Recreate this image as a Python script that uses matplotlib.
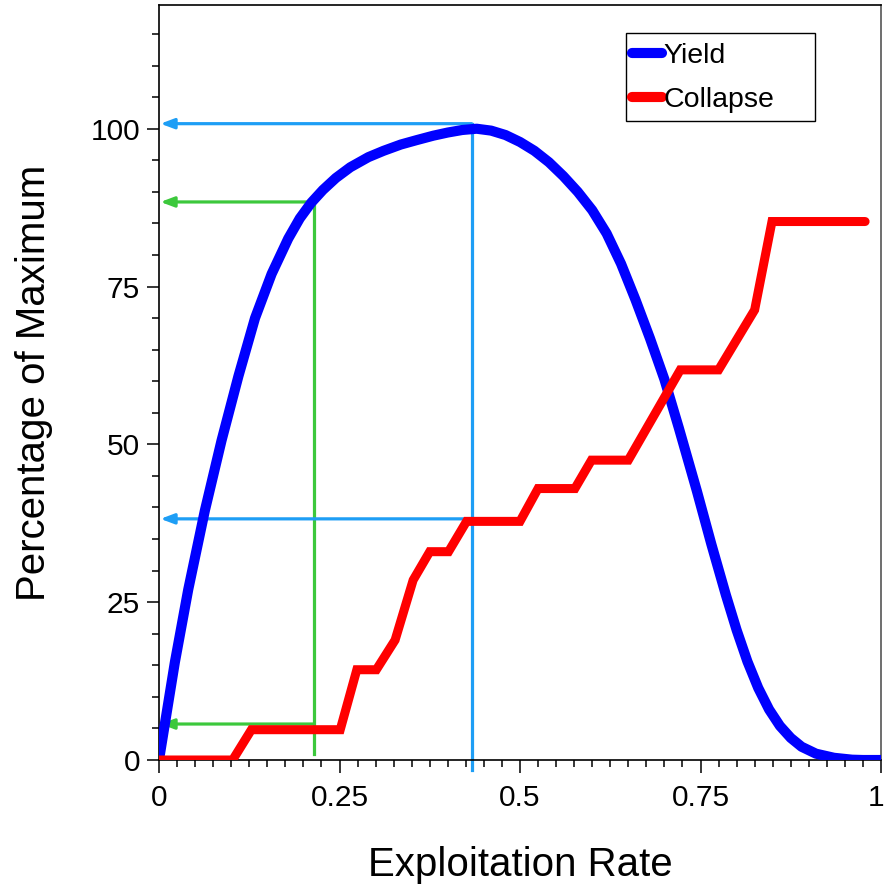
import matplotlib
matplotlib.use("Agg")
import matplotlib.pyplot as plt
from matplotlib.ticker import MultipleLocator, FixedLocator
from matplotlib.patches import Rectangle
from matplotlib.lines import Line2D
import matplotlib.transforms as mtransforms

plt.rcParams['font.family'] = ['Liberation Sans', 'DejaVu Sans']

# Yield curve (percentage of maximum) vs exploitation rate
yield_x = [0, 0.022, 0.0405, 0.0635, 0.0866, 0.11, 0.133, 0.156, 0.179, 0.195,
           0.211, 0.227, 0.245, 0.265, 0.29, 0.311, 0.335, 0.357, 0.38, 0.40,
           0.42, 0.44, 0.46, 0.48, 0.50, 0.52, 0.54, 0.56, 0.58, 0.60,
           0.62, 0.64, 0.66, 0.68, 0.70, 0.72, 0.745, 0.765, 0.785, 0.80,
           0.815, 0.83, 0.845, 0.86, 0.875, 0.89, 0.91, 0.935, 0.96, 0.975, 1.0]
yield_y = [0, 15.5, 27.0, 39.5, 50.6, 60.8, 70.0, 77.0, 82.6, 85.8,
           88.3, 90.3, 92.2, 93.9, 95.5, 96.5, 97.5, 98.2, 98.9, 99.4,
           99.8, 100.0, 99.7, 99.0, 97.9, 96.5, 94.7, 92.5, 90.0, 87.1,
           83.4, 78.6, 72.9, 66.8, 60.3, 52.6, 42.6, 34.2, 26.2, 20.6,
           15.6, 11.4, 8.0, 5.4, 3.5, 2.1, 1.0, 0.35, 0.05, 0, 0]

# Collapse (step-like) curve
collapse_x = [0, 0.102, 0.128, 0.251, 0.274, 0.301, 0.327, 0.352, 0.375, 0.401,
              0.426, 0.5, 0.525, 0.576, 0.599, 0.650, 0.722, 0.775, 0.825, 0.849, 0.978]
collapse_y = [0, 0, 4.8, 4.8, 14.3, 14.3, 19.0, 28.5, 33.0, 33.0,
              37.8, 37.8, 43.0, 43.0, 47.5, 47.5, 61.8, 61.8, 71.3, 85.3, 85.3]

# Reference guide lines
msy_rate = 0.433
msy_yield = 100.8
msy_collapse = 38.2
alt_rate = 0.2147
alt_yield = 88.4
alt_collapse = 5.7

x_ticks = [0, 0.25, 0.5, 0.75, 1]
x_tick_labels = ['0', '0.25', '0.5', '0.75', '1']
y_ticks = [0, 25, 50, 75, 100]
y_tick_labels = ['0', '25', '50', '75', '100']
series_labels = ['Yield', 'Collapse']
series_colors = ['#0000FF', '#FF0000']

W, H = 885, 886
fig = plt.figure(figsize=(W / 100, H / 100), dpi=100)
ax = fig.add_axes([159 / W, 1 - 760 / H, (881 - 159) / W, (760 - 5) / H])

lb = '#1E9EF5'
gr = '#3CC83C'

# guide lines
ax.plot([msy_rate, msy_rate], [-1.6, msy_yield], color=lb, lw=2.3, clip_on=False, zorder=2)
ax.plot([alt_rate, alt_rate], [1.0, alt_yield], color=gr, lw=2.3, zorder=2)
for yv, col, x0 in [(msy_yield, lb, msy_rate), (msy_collapse, lb, msy_rate),
                    (alt_yield, gr, alt_rate), (alt_collapse, gr, alt_rate)]:
    ax.annotate('', xy=(0.002, yv), xytext=(x0, yv),
                arrowprops=dict(arrowstyle='-|>,head_length=0.8,head_width=0.3',
                                color=col, lw=2.3, shrinkA=0, shrinkB=0), zorder=2)

ax.plot(yield_x, yield_y, color=series_colors[0], lw=7.3, solid_capstyle='round',
        solid_joinstyle='round', zorder=3)
ax.plot(collapse_x, collapse_y, color=series_colors[1], lw=6.5, solid_capstyle='round',
        solid_joinstyle='miter', zorder=3)

ax.set_xlim(0, 1)
ax.set_ylim(0, 119.6)
ax.xaxis.set_major_locator(FixedLocator(x_ticks))
ax.set_xticklabels(x_tick_labels)
ax.yaxis.set_major_locator(FixedLocator(y_ticks))
ax.set_yticklabels(y_tick_labels)
ax.xaxis.set_minor_locator(MultipleLocator(0.025))
ax.yaxis.set_minor_locator(MultipleLocator(5))
ax.tick_params(which='major', length=9, width=1.1, labelsize=21.5, direction='out')
ax.tick_params(which='minor', length=5, width=1.1, direction='out')
ax.tick_params(axis='x', which='major', pad=8)
ax.tick_params(axis='y', which='major', pad=4.5)
ax.tick_params(top=False, right=False)
for s in ax.spines.values():
    s.set_linewidth(1.2)
    s.set_color('black')
ax.spines['right'].set_color('#555555')

# nudge the last x tick label so it stays inside the image
last = ax.get_xticklabels()[-1]
last.set_transform(last.get_transform() +
                   mtransforms.ScaledTranslation(-5 / 100, 0, fig.dpi_scale_trans))

ax.set_xlabel('Exploitation Rate', fontsize=29, labelpad=25)
ax.set_ylabel('Percentage of Maximum', fontsize=29, labelpad=27)

# legend box
fig.patches.append(Rectangle((626 / W, 1 - 121 / H), (815 - 626) / W, (121 - 33) / H,
                             transform=fig.transFigure, facecolor='white',
                             edgecolor='black', lw=1.0, zorder=5))
handles = [Line2D([], [], color=c, lw=7.3, solid_capstyle='round') for c in series_colors]
leg = fig.legend(handles, series_labels, loc='upper left',
                 bbox_to_anchor=(632 / W, 1 - 43 / H),
                 bbox_transform=fig.transFigure, fontsize=20.5, frameon=False,
                 handlelength=1.05, handletextpad=0.05, labelspacing=0.63,
                 borderpad=0, borderaxespad=0)
leg.set_zorder(6)

fig.savefig('out.png', dpi=100)
